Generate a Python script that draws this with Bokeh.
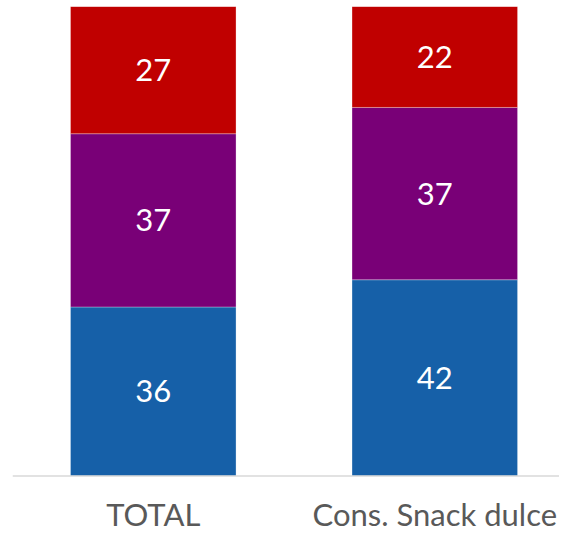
from bokeh.plotting import figure
from bokeh.models import Range1d, ColumnDataSource, Span
from bokeh.core.properties import value
from bokeh.embed import file_html
from bokeh.resources import INLINE

# ---- data ----
categories = ["TOTAL", "Cons. Snack dulce"]
blue_vals = [36.0, 41.8]
purple_vals = [36.9, 36.7]
red_vals = [27.1, 21.5]
blue_labels = ["36", "42"]
purple_labels = ["37", "37"]
red_labels = ["27", "22"]
series_colors = ["#1660A8", "#790077", "#C00000"]

FONT = "Lato"
xs = [i + 0.5 for i in range(len(categories))]

p = figure(width=559, height=533, output_backend="svg", toolbar_location=None,
           x_range=Range1d(0, 1.943), y_range=Range1d(-12.25, 100),
           x_axis_location=None, y_axis_location=None,
           min_border_left=12, min_border_right=0, min_border_top=6, min_border_bottom=0)
p.outline_line_color = None
p.xgrid.visible = False
p.ygrid.visible = False
p.background_fill_color = "white"
p.border_fill_color = "white"

series = [(blue_vals, blue_labels), (purple_vals, purple_labels), (red_vals, red_labels)]
bottoms = [0.0] * len(categories)
for (vals, labels), col in zip(series, series_colors):
    tops = [b + v for b, v in zip(bottoms, vals)]
    mids = [(b + t) / 2 for b, t in zip(bottoms, tops)]
    src = ColumnDataSource(dict(x=xs, bottom=bottoms, top=tops, mid=mids, label=labels))
    p.vbar(x="x", bottom="bottom", top="top", width=0.588, source=src,
           fill_color=col, line_color="white", line_alpha=0.4, line_width=0.75)
    p.text(x="x", y="mid", text="label", source=src, text_color="white",
           text_font=value(FONT), text_font_size="31px",
           text_align="center", text_baseline="middle")
    bottoms = tops

# category axis: baseline line and labels
p.add_layout(Span(location=0, dimension="width", line_color="#D9D9D9", line_width=1.5))
cat_src = ColumnDataSource(dict(x=xs, y=[-8.1] * len(categories), label=categories))
p.text(x="x", y="y", text="label", source=cat_src, text_color="#595959",
       text_font=value(FONT), text_font_size="31px",
       text_align="center", text_baseline="middle")

open("out.html", "w").write(file_html(p, INLINE))
